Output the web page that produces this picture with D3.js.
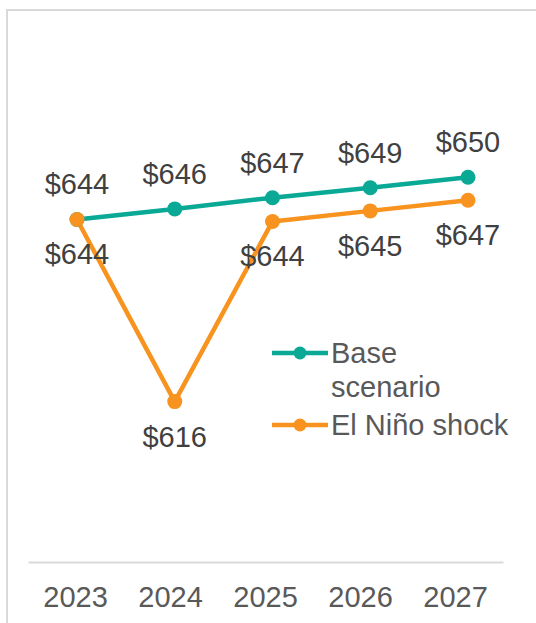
<!DOCTYPE html>
<html>
<head>
<meta charset="utf-8">
<script src="https://cdn.jsdelivr.net/npm/d3@7"></script>
<style>
  body { margin: 0; background: #fff; }
  text { font-family: "Liberation Sans", Arial, sans-serif; }
</style>
</head>
<body>
<svg width="536" height="623"></svg>
<script>
const years = ["2023", "2024", "2025", "2026", "2027"];
const baseValues = [643.9, 645.5, 647.2, 648.7, 650.3];
const ninoValues = [643.9, 616.3, 643.6, 645.2, 646.8];
const seriesNames = ["Base scenario", "El Niño shock"];
const colors = ["#0aa996", "#f7931e"];

const svg = d3.select("svg");

// outer frame
svg.append("rect")
    .attr("x", 7).attr("y", 10)
    .attr("width", 600).attr("height", 700)
    .attr("fill", "none")
    .attr("stroke", "#d9d9d9")
    .attr("stroke-width", 2);

const axisX = d3.scaleBand().domain(years).range([28, 503]);
const x = d3.scalePoint().domain(years).range([77, 468]);
const y = d3.scaleLinear().domain([592, 662]).range([562, 100]);

// category axis
const xAxis = svg.append("g")
    .attr("transform", "translate(0,562)")
    .call(d3.axisBottom(axisX).tickSize(0).tickPadding(24));
xAxis.select(".domain").attr("stroke", "#d9d9d9").attr("stroke-width", 2);
xAxis.selectAll("text")
    .attr("fill", "#595959")
    .style("font-size", "29px")
    .style("font-family", "'Liberation Sans', Arial, sans-serif");

const line = d3.line().x((d, i) => x(years[i])).y(d => y(d));

[baseValues, ninoValues].forEach((vals, s) => {
    svg.append("path")
        .datum(vals)
        .attr("d", line)
        .attr("fill", "none")
        .attr("stroke", colors[s])
        .attr("stroke-width", 4.5)
        .attr("stroke-linejoin", "round");
});

[baseValues, ninoValues].forEach((vals, s) => {
    svg.append("g").selectAll("circle")
        .data(vals)
        .enter().append("circle")
        .attr("cx", (d, i) => x(years[i]))
        .attr("cy", d => y(d))
        .attr("r", 7.5)
        .attr("fill", colors[s]);
});

// data labels: base above, shock below
svg.append("g").selectAll("text")
    .data(baseValues)
    .enter().append("text")
    .attr("x", (d, i) => x(years[i]))
    .attr("y", d => y(d) - 25)
    .attr("text-anchor", "middle")
    .attr("fill", "#404040")
    .style("font-size", "29px")
    .text(d => "$" + d3.format(".0f")(d));

svg.append("g").selectAll("text")
    .data(ninoValues)
    .enter().append("text")
    .attr("x", (d, i) => x(years[i]))
    .attr("y", d => y(d) + 45)
    .attr("text-anchor", "middle")
    .attr("fill", "#404040")
    .style("font-size", "29px")
    .text(d => "$" + d3.format(".0f")(d));

// legend
const legend = svg.append("g").attr("transform", "translate(272,0)");
const legendRows = [
    {y: 353, lines: ["Base", "scenario"]},
    {y: 425, lines: ["El Niño shock"]}
];
legendRows.forEach((row, s) => {
    legend.append("line")
        .attr("x1", 0).attr("x2", 56)
        .attr("y1", row.y).attr("y2", row.y)
        .attr("stroke", colors[s])
        .attr("stroke-width", 4.5);
    legend.append("circle")
        .attr("cx", 28).attr("cy", row.y)
        .attr("r", 6.5)
        .attr("fill", colors[s]);
    row.lines.forEach((t, j) => {
        legend.append("text")
            .attr("x", 59)
            .attr("y", row.y + 10 + j * 34)
            .attr("fill", "#595959")
            .style("font-size", "29px")
            .text(t);
    });
});
</script>
</body>
</html>
